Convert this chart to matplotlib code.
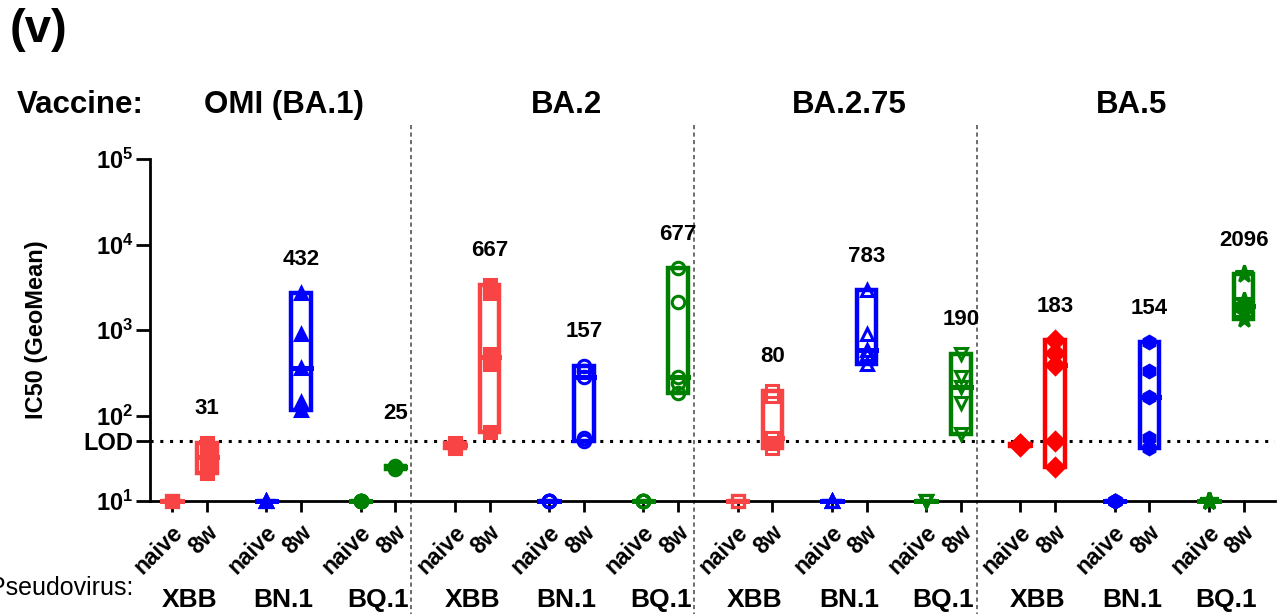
import numpy as np
import matplotlib.pyplot as plt
from matplotlib.patches import Rectangle
from matplotlib.ticker import NullLocator
from matplotlib.transforms import blended_transform_factory, ScaledTranslation

plt.rcParams['font.family'] = ['Liberation Sans', 'DejaVu Sans']
plt.rcParams['mathtext.fontset'] = 'custom'
plt.rcParams['mathtext.rm'] = 'Liberation Sans'
plt.rcParams['mathtext.bf'] = 'Liberation Sans:bold'

vaccines = ['OMI (BA.1)', 'BA.2', 'BA.2.75', 'BA.5']
pseudoviruses = ['XBB', 'BN.1', 'BQ.1']
timepoints = ['naive', '8w']

# IC50 per animal, one list per pseudovirus (XBB, BN.1, BQ.1)
omi_naive = [[10, 10, 10, 10, 10], [10, 10, 10, 10, 10], [10, 10, 10, 10, 10]]
omi_8w = [[21, 22, 33, 40, 48], [115, 145, 360, 900, 2700], [24, 25, 25, 25, 26]]
ba2_naive = [[42, 44, 45, 46, 48], [10, 10, 10, 10, 10], [10, 10, 10, 10, 10]]
ba2_8w = [[65, 400, 460, 520, 2700, 3400], [50, 55, 280, 330, 380], [185, 240, 280, 2100, 5300]]
ba275_naive = [[10, 10, 10, 10, 10], [10, 10, 10, 10, 10], [10, 10, 10, 10, 10]]
ba275_8w = [[42, 48, 55, 170, 195], [400, 520, 590, 900, 2900], [60, 140, 215, 280, 530]]
ba5_naive = [[44, 45, 45, 46, 47], [10, 10, 10, 10, 10], [10, 10, 10, 10, 10]]
ba5_8w = [[25, 50, 390, 540, 760], [42, 55, 165, 330, 720], [1350, 1600, 1900, 2200, 4500]]

# geometric mean titres printed above the 8w bars
omi_gmt = [31, 432, 25]
ba2_gmt = [667, 157, 677]
ba275_gmt = [80, 783, 190]
ba5_gmt = [183, 154, 2096]

LOD = 50

naive_sets = [omi_naive, ba2_naive, ba275_naive, ba5_naive]
week8_sets = [omi_8w, ba2_8w, ba275_8w, ba5_8w]
gmt_sets = [omi_gmt, ba2_gmt, ba275_gmt, ba5_gmt]

red = '#F84444'
blue = '#0000FF'
green = '#008000'
colors = [[red, blue, green], [red, blue, green], [red, blue, green], ['#FF0000', blue, green]]
markers = [['s', '^', 'o'], ['s', 'o', 'o'], ['s', '^', 'v'], ['D', 'h', '*']]
filled = [[True, True, True], [True, False, False], [False, False, False], [True, True, True]]

step = 2.7      # distance between pseudovirus pairs
bw = 0.28       # half width of floating bars

fig = plt.figure(figsize=(12.77, 6.14), dpi=100)
ax = fig.add_axes([0.1175, 0.184, 0.881, 0.557])
ax.set_yscale('log')
ax.set_ylim(10, 1e5)
ax.set_xlim(-0.63, 31.6)

xticks, xlabels = [], []
for g in range(len(vaccines)):
    for p in range(len(pseudoviruses)):
        x0 = step * (3 * g + p)
        col = colors[g][p]
        mk = markers[g][p]
        ms = 13 if mk == '*' else 9
        face = col if filled[g][p] else 'none'
        for x, vals in ((x0, naive_sets[g][p]), (x0 + 1, week8_sets[g][p])):
            lo, hi, med = min(vals), max(vals), np.median(vals)
            ax.add_patch(Rectangle((x - bw, lo), 2 * bw, hi - lo, fill=False, ec=col,
                                   lw=3.2, joinstyle='miter', clip_on=False, zorder=4))
            ax.plot([x - bw, x + bw], [med, med], color=col, lw=3.6,
                    solid_capstyle='projecting', clip_on=False, zorder=4)
            ax.plot([x] * len(vals), vals, ls='none', marker=mk, ms=ms, mfc=face,
                    mec=col, mew=2.2, clip_on=False, zorder=5)
        top = max(week8_sets[g][p])
        ax.text(x0 + 1, max(top * 2.5, 105), str(gmt_sets[g][p]), ha='center', va='center',
                fontsize=16, fontweight='bold')
        xticks += [x0, x0 + 1]
        xlabels += timepoints

# LOD line
ax.axhline(LOD, color='black', lw=2.2, ls=(0, (1, 2.2)), zorder=1)

# dashed separators between vaccine groups
sep_tr = blended_transform_factory(ax.transData, ax.transAxes)
for g in range(len(vaccines) - 1):
    xs = step * (3 * g + 2) + 1.45
    ax.plot([xs, xs], [1.099, -0.33], transform=sep_tr, clip_on=False,
            color='#555555', lw=1.2, ls=(0, (2.5, 2)))

# axes styling
for s in ['top', 'right']:
    ax.spines[s].set_visible(False)
for s in ['left', 'bottom']:
    ax.spines[s].set_linewidth(2)

ax.set_yticks([10, LOD, 100, 1000, 1e4, 1e5])
ax.set_yticklabels([r'$\mathbf{10^{1}}$', 'LOD', r'$\mathbf{10^{2}}$', r'$\mathbf{10^{3}}$',
                    r'$\mathbf{10^{4}}$', r'$\mathbf{10^{5}}$'], fontsize=17, fontweight='bold')
ax.yaxis.set_minor_locator(NullLocator())
ax.tick_params(axis='y', length=10, width=2, pad=2)

ax.set_xticks(xticks)
ax.set_xticklabels(xlabels, rotation=45, ha='right', va='center', rotation_mode='anchor',
                   fontsize=16.5, fontweight='bold')
ax.tick_params(axis='x', length=8, width=2, pad=12)
shift = ScaledTranslation(5 / 72, 0, fig.dpi_scale_trans)
for lbl in ax.get_xticklabels():
    lbl.set_transform(lbl.get_transform() + shift)

ax.set_ylabel('IC50 (GeoMean)', fontsize=17, fontweight='bold')
ax.yaxis.set_label_coords(-0.0905, 0.5)

# header and footer labels
title_tr = blended_transform_factory(ax.transData, fig.transFigure)
fig.text(10 / 1277, 1 - 30 / 614, '(v)', fontsize=34, fontweight='bold', va='center')
fig.text(17 / 1277, 1 - 113 / 614, 'Vaccine:', fontsize=22.5, fontweight='bold', va='baseline')
for g, name in enumerate(vaccines):
    ax.text(step * (3 * g + 1) + 0.5, 1 - 113 / 614, name, transform=title_tr,
            ha='center', va='baseline', fontsize=22.5, fontweight='bold')

fig.text(133 / 1277, 0.031, 'Pseudovirus:', fontsize=18, ha='right', va='baseline')
for g in range(len(vaccines)):
    for p, name in enumerate(pseudoviruses):
        ax.text(step * (3 * g + p) + 0.5, 0.0114, name, transform=title_tr,
                ha='center', va='baseline', fontsize=19, fontweight='bold')

fig.savefig('out.png', dpi=100)
